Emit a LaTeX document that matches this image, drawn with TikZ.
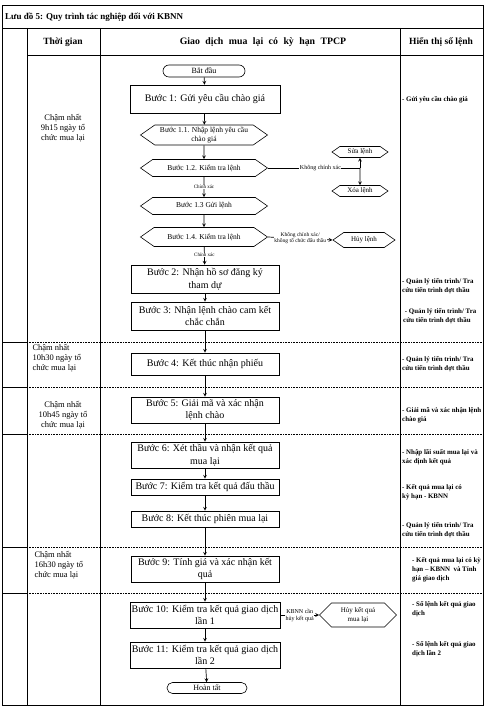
\documentclass[tikz,border=0pt]{standalone}
\usepackage{fontspec}
\setmainfont{Liberation Serif}
\usetikzlibrary{shapes.symbols,shapes.misc}

\begin{document}
\begin{tikzpicture}[x=1pt,y=-1pt,
    flowBox/.style={draw,line width=0.6pt,align=center,minimum width=148pt,inner sep=1pt,font=\fontsize{10}{12.5}\selectfont},
    flowHex/.style={draw,line width=0.6pt,signal,signal to=east and west,signal pointer angle=70,align=center,minimum width=127pt,inner sep=1pt,font=\fontsize{7.5}{9}\selectfont},
    flowEnd/.style={draw,line width=0.6pt,rounded rectangle,minimum width=82pt,minimum height=12pt,inner sep=0pt,font=\fontsize{8}{9}\selectfont},
    flowArr/.style={->,>=stealth,line width=0.7pt},
    flowLbl/.style={fill=white,inner sep=0.5pt,align=center,font=\fontsize{5.5}{6}\selectfont},
    timeTxt/.style={align=center,font=\fontsize{8.5}{9.8}\selectfont},
    infoTxt/.style={anchor=west,align=left,inner sep=0pt,font=\fontsize{6.9}{8.8}\selectfont\bfseries},
    headTxt/.style={font=\fontsize{9.5}{11}\selectfont\bfseries},
    rowSep/.style={densely dotted,line width=0.6pt},
]
\useasboundingbox (0,0) rectangle (492,708);
% Frame
\draw[line width=0.7pt] (2,5) rectangle (483,705);
\draw[line width=0.7pt] (2,28) -- (483,28);
\draw[line width=0.7pt] (27,55) -- (483,55);
\draw[line width=0.7pt] (27,28) -- (27,705);
\draw[line width=0.7pt] (100,28) -- (100,705);
\draw[line width=0.7pt] (400,28) -- (400,705);
\foreach \yy in {342,387,434,547,593} {
  \draw[line width=0.6pt] (2,\yy) -- (27,\yy);
  \draw[rowSep] (27,\yy) -- (483,\yy);
}
% Title and headers
\node[anchor=west,inner sep=0pt,font=\fontsize{9}{10}\selectfont\bfseries] (title) at (5,17) {Lưu đồ 5: Quy trình tác nghiệp đối với KBNN};
\node[headTxt] (hTime) at (63,42) {Thời gian};
\node[headTxt,font=\fontsize{9.8}{11}\selectfont\bfseries] (hFlow) at (263,42) {\spaceskip=5.5pt\relax Giao dịch mua lại có kỳ hạn TPCP};
\node[headTxt] (hInfo) at (441,42) {Hiển thị số lệnh};
% Time column
\node[timeTxt] (t1) at (63,128) {Chậm nhất\\9h15 ngày tổ\\chức mua lại};
\node[timeTxt,anchor=west,align=left] (t2) at (29,358) {Chậm nhất\\10h30 ngày tổ\\chức mua lại};
\node[timeTxt] (t3) at (63,415) {Chậm nhất\\10h45 ngày tổ\\chức mua lại};
\node[timeTxt,anchor=west,align=left] (t4) at (31,565) {Chậm nhất\\16h30 ngày tổ\\chức mua lại};
% Flow
\node[flowEnd] (start) at (204,71) {Bắt đầu};
\node[flowBox,minimum width=150pt,minimum height=28pt] (b1) at (205,99) {Bước 1: Gửi yêu cầu chào giá};
\node[flowHex,minimum height=20pt] (b11) at (204,135) {Bước 1.1. Nhập lệnh yêu cầu\\chào giá};
\node[flowHex,minimum height=17pt] (b12) at (204,168) {Bước 1.2. Kiểm tra lệnh};
\node[flowHex,minimum height=17pt] (b13) at (204,206) {Bước 1.3 Gửi lệnh};
\node[flowHex,minimum height=19pt] (b14) at (204,237) {Bước 1.4. Kiểm tra lệnh};
\node[flowBox,minimum height=28pt] (b2) at (205,279) {Bước 2: Nhận hồ sơ đăng ký\\tham dự};
\node[flowBox,minimum height=28pt] (b3) at (205,316) {Bước 3: Nhận lệnh chào cam kết\\chắc chắn};
\node[flowBox,minimum height=22pt] (b4) at (205,364) {Bước 4: Kết thúc nhận phiếu};
\node[flowBox,minimum height=26pt] (b5) at (205,410) {Bước 5: Giải mã và xác nhận\\lệnh chào};
\node[flowBox,minimum height=26pt] (b6) at (205,455) {Bước 6: Xét thầu và nhận kết quả\\mua lại};
\node[flowBox,minimum height=16pt] (b7) at (205,487) {Bước 7: Kiểm tra kết quả đấu thầu};
\node[flowBox,minimum height=16pt] (b8) at (205,519) {Bước 8: Kết thúc phiên mua lại};
\node[flowBox,minimum height=26pt] (b9) at (205,569) {Bước 9: Tính giá và xác nhận kết\\quả};
\node[flowBox,minimum width=150pt,minimum height=26pt] (b10) at (205,615) {Bước 10: Kiểm tra kết quả giao dịch\\lần 1};
\node[flowBox,minimum width=150pt,minimum height=26pt] (b11x) at (205,655) {Bước 11: Kiểm tra kết quả giao dịch\\lần 2};
\node[flowEnd,minimum width=80pt,minimum height=11pt] (finish) at (207,688) {Hoàn tất};
% Side branches
\node[flowHex,minimum width=56pt,minimum height=11pt,font=\fontsize{7}{8}\selectfont] (sua) at (360,152) {Sửa lệnh};
\node[flowHex,minimum width=56pt,minimum height=11pt,font=\fontsize{7}{8}\selectfont] (xoa) at (360,191) {Xóa lệnh};
\node[flowHex,minimum width=62pt,minimum height=15pt,font=\fontsize{7}{8}\selectfont] (huy) at (364,240) {Hủy lệnh};
\node[flowHex,signal pointer angle=90,minimum width=77pt,minimum height=24pt,font=\fontsize{7}{8.5}\selectfont] (huyKQ) at (358,615) {Hủy kết quả\\mua lại};
\coordinate (split) at (360,168);
% Connectors
\draw[flowArr] (start) -- (b1);
\draw[flowArr] (b1) -- (b11);
\draw[flowArr] (b11) -- (b12);
\draw[flowArr] (b12) -- node[flowLbl,font=\fontsize{5}{5.5}\selectfont] {Chính xác} (b13);
\draw[flowArr] (b13) -- (b14);
\draw[flowArr] (b14) -- node[flowLbl,font=\fontsize{5}{5.5}\selectfont,pos=0.45] {Chính xác} (b2);
\draw[flowArr] (b2) -- (b3);
\draw[flowArr] (b3) -- (b4);
\draw[flowArr] (b4) -- (b5);
\draw[flowArr] (b5) -- (b6);
\draw[flowArr] (b6) -- (b7);
\draw[flowArr] (b7) -- (b8);
\draw[flowArr] (b8) -- (b9);
\draw[flowArr] (b9) -- (b10);
\draw[flowArr] (b10) -- (b11x);
\draw[flowArr] (b11x) -- (finish);
\draw[line width=0.6pt] (b12.east) -- node[flowLbl,font=\fontsize{6}{7}\selectfont,pos=0.57] {Không chính xác} (split);
\draw[flowArr] (split) -- (sua);
\draw[flowArr] (split) -- (xoa);
\draw[flowArr] (b14.east) -- node[flowLbl] {Không chính xác/\\không tổ chức đấu thầu} (huy.west);
\draw[flowArr] (b10.east) -- node[flowLbl,font=\fontsize{6}{7}\selectfont] {KBNN cần\\hủy kết quả} (huyKQ.west);
% Info column
\node[infoTxt] (i1) at (402,100) {- Gửi yêu cầu chào giá};
\node[infoTxt] (i2) at (402,286) {- Quản lý tiến trình/ Tra\\cứu tiến trình đợt thầu};
\node[infoTxt] (i3) at (403,316) {\ - Quản lý tiến trình/ Tra\\cứu tiến trình đợt thầu};
\node[infoTxt] (i4) at (402,364) {- Quản lý tiến trình/ Tra\\cứu tiến trình đợt thầu};
\node[infoTxt] (i5) at (402,415) {- Giải mã và xác nhận lệnh\\chào giá};
\node[infoTxt] (i6) at (402,457) {- Nhập lãi suất mua lại và\\xác định kết quả};
\node[infoTxt] (i7) at (402,492) {- Kết quả mua lại có\\kỳ hạn - KBNN};
\node[infoTxt] (i8) at (402,530) {- Quản lý tiến trình/ Tra\\cứu tiến trình đợt thầu};
\node[infoTxt] (i9) at (412,570) {- Kết quả mua lại có kỳ\\hạn – KBNN\ \ và Tính\\giá giao dịch};
\node[infoTxt] (i10) at (412,609) {- Sổ lệnh kết quả giao\\dịch};
\node[infoTxt] (i11) at (412,649) {- Sổ lệnh kết quả giao\\dịch lần 2};
\end{tikzpicture}
\end{document}
